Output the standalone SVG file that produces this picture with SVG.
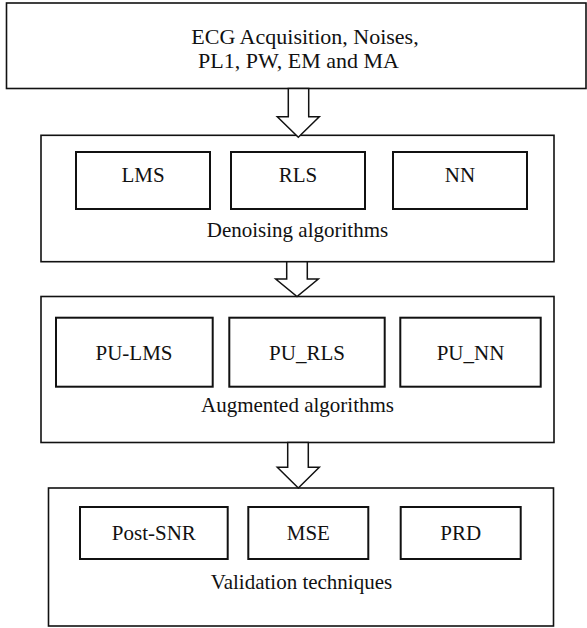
<svg xmlns="http://www.w3.org/2000/svg" width="587" height="628" viewBox="0 0 587 628">
<style>
.outer{fill:#fff;stroke:#111;stroke-width:1.6}
.inner{fill:#fff;stroke:#111;stroke-width:2}
.arrow{fill:#fff;stroke:#111;stroke-width:1.5;stroke-linejoin:miter}
text{font-family:"Liberation Serif","Times New Roman",serif;font-size:21px;fill:#111;text-anchor:middle}
.big{font-size:22px}
</style>
<rect width="587" height="628" fill="#fff"/>
<g id="node-acquisition">
<rect class="outer" x="6.5" y="3" width="579.5" height="85.5"/>
<text class="big" x="305" y="43.5">ECG Acquisition, Noises,</text>
<text class="big" x="298.5" y="68">PL1, PW, EM and MA</text>
</g>
<g id="node-denoising">
<rect class="outer" x="41" y="135.3" width="513" height="126.4"/>
<text x="297.5" y="236.7">Denoising algorithms</text>
</g>
<g id="node-lms"><rect class="inner" x="76" y="152" width="134" height="57"/><text x="143" y="182.3">LMS</text></g>
<g id="node-rls"><rect class="inner" x="231" y="152" width="134" height="57"/><text x="298" y="182.3">RLS</text></g>
<g id="node-nn"><rect class="inner" x="393" y="152" width="134" height="57"/><text x="460" y="182.3">NN</text></g>
<g id="node-augmented">
<rect class="outer" x="41" y="296.5" width="513" height="146"/>
<text x="297.5" y="412">Augmented algorithms</text>
</g>
<g id="node-pu-lms"><rect class="inner" x="56" y="317.7" width="156.7" height="69"/><text x="134" y="360">PU-LMS</text></g>
<g id="node-pu-rls"><rect class="inner" x="229.3" y="317.7" width="155.4" height="69"/><text x="307" y="360">PU_RLS</text></g>
<g id="node-pu-nn"><rect class="inner" x="400.3" y="317.7" width="140.4" height="69"/><text x="470.5" y="360">PU_NN</text></g>
<g id="node-validation">
<rect class="outer" x="48.5" y="488" width="505" height="138"/>
<text x="301.5" y="589">Validation techniques</text>
</g>
<g id="node-post-snr"><rect class="inner" x="80" y="507" width="147.7" height="52"/><text x="153.8" y="540">Post-SNR</text></g>
<g id="node-mse"><rect class="inner" x="248.3" y="507" width="120" height="52"/><text x="308.3" y="540">MSE</text></g>
<g id="node-prd"><rect class="inner" x="400.7" y="507" width="120" height="52"/><text x="460.7" y="540">PRD</text></g>
<g id="connectors">
<polygon class="arrow" points="288.3,88.5 308.7,88.5 308.7,116.7 319.3,116.7 298.3,137.3 277.3,116.7 288.3,116.7"/>
<polygon class="arrow" points="286.7,261.7 307.3,261.7 307.3,279 318.3,279 297,296.5 275.7,279 286.7,279"/>
<polygon class="arrow" points="287.7,442.5 308.3,442.5 308.3,467.3 319.3,467.3 298.3,488 277.3,467.3 287.7,467.3"/>
</g>
</svg>
